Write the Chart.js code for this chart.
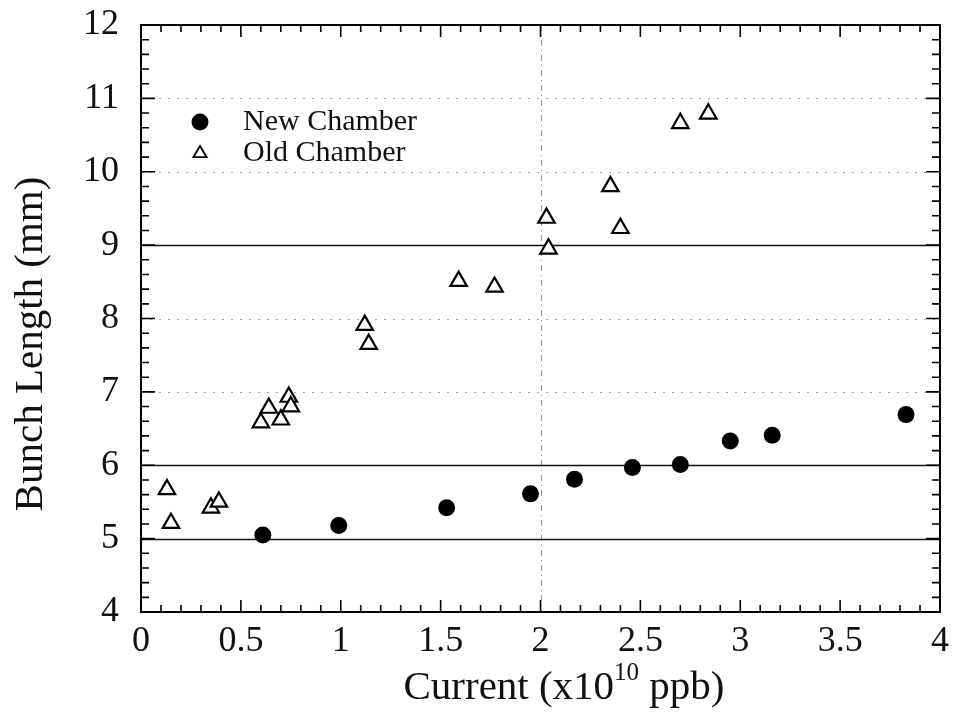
<!DOCTYPE html>
<html>
<head>
<meta charset="utf-8">
<script src="https://cdn.jsdelivr.net/npm/chart.js@4.4.1/dist/chart.umd.min.js"></script>
<style>
  html, body { margin: 0; padding: 0; background: #fff; }
  #wrap { width: 956px; height: 717px; }
</style>
</head>
<body>
<div id="wrap"><canvas id="c" width="956" height="717"></canvas></div>
<script>
// Bunch length vs. bunch current, new and old vacuum chamber
const newCurrent = [0.61, 0.99, 1.53, 1.95, 2.17, 2.46, 2.70, 2.95, 3.16, 3.83];
const newLength  = [5.05, 5.18, 5.42, 5.61, 5.81, 5.97, 6.01, 6.33, 6.41, 6.69];

const oldCurrent = [0.13, 0.15, 0.35, 0.39, 0.60, 0.64, 0.70, 0.74, 0.75, 1.12, 1.14, 1.59, 1.77, 2.03, 2.04, 2.35, 2.40, 2.70, 2.84];
const oldLength  = [5.67, 5.21, 5.42, 5.50, 6.58, 6.78, 6.62, 6.93, 6.80, 7.91, 7.65, 8.51, 8.43, 9.37, 8.95, 9.80, 9.23, 10.66, 10.79];

const xTicks = [0, 0.5, 1, 1.5, 2, 2.5, 3, 3.5, 4];
const yTicks = [4, 5, 6, 7, 8, 9, 10, 11, 12];
const seriesNames = ['New Chamber', 'Old Chamber'];
const yTitle = 'Bunch Length (mm)';

const solidGridY = [5, 6, 9];
const dottedGridY = [7, 8, 10, 11];
const dashedGridX = [2];

const SERIF = '"Liberation Serif", "Times New Roman", serif';

const toPoints = (xs, ys) => xs.map((x, i) => ({ x, y: ys[i] }));

// Grid lines, inward tick marks, closed frame, legend and axis titles
const decor = {
  id: 'decor',
  beforeDatasetsDraw(chart) {
    const { ctx, chartArea: a, scales: { x, y } } = chart;
    ctx.save();
    ctx.strokeStyle = '#111';
    ctx.lineWidth = 1.6;
    solidGridY.forEach(v => {
      const py = Math.round(y.getPixelForValue(v)) + 0.5;
      ctx.beginPath(); ctx.moveTo(a.left, py); ctx.lineTo(a.right, py); ctx.stroke();
    });
    ctx.strokeStyle = 'rgba(0,0,0,0.35)';
    ctx.lineWidth = 1;
    ctx.setLineDash([2, 7]);
    dottedGridY.forEach(v => {
      const py = Math.round(y.getPixelForValue(v)) + 0.5;
      ctx.beginPath(); ctx.moveTo(a.left, py); ctx.lineTo(a.right, py); ctx.stroke();
    });
    ctx.setLineDash([6, 4, 1, 4]);
    ctx.strokeStyle = 'rgba(0,0,0,0.4)';
    dashedGridX.forEach(v => {
      const px = Math.round(x.getPixelForValue(v)) + 0.5;
      ctx.beginPath(); ctx.moveTo(px, a.top); ctx.lineTo(px, a.bottom); ctx.stroke();
    });
    ctx.restore();
  },
  afterDraw(chart) {
    const { ctx, chartArea: a, scales: { x, y } } = chart;
    ctx.save();
    ctx.strokeStyle = '#000';
    ctx.lineWidth = 2;
    ctx.strokeRect(a.left, a.top, a.right - a.left, a.bottom - a.top);

    ctx.lineWidth = 1.6;
    // x ticks every 0.1, major every 0.5
    for (let i = 0; i <= 40; i++) {
      const px = x.getPixelForValue(i / 10);
      const len = (i % 5 === 0) ? 12 : 7;
      ctx.beginPath();
      ctx.moveTo(px, a.bottom); ctx.lineTo(px, a.bottom - len);
      ctx.moveTo(px, a.top); ctx.lineTo(px, a.top + len);
      ctx.stroke();
    }
    // y ticks every 0.2, major every 1
    for (let i = 0; i <= 40; i++) {
      const py = y.getPixelForValue(4 + i / 5);
      const len = (i % 5 === 0) ? 14 : 8;
      ctx.beginPath();
      ctx.moveTo(a.left, py); ctx.lineTo(a.left + len, py);
      ctx.moveTo(a.right, py); ctx.lineTo(a.right - len, py);
      ctx.stroke();
    }

    // legend
    const ds = chart.data.datasets;
    const lx = 200, ly = [122, 153];
    ds.forEach((d, i) => {
      ctx.beginPath();
      if (d.pointStyle === 'circle') {
        ctx.fillStyle = d.backgroundColor;
        ctx.arc(lx, ly[i], 8.5, 0, Math.PI * 2);
        ctx.fill();
      } else {
        const r = 7;
        ctx.fillStyle = '#fff';
        ctx.strokeStyle = '#000';
        ctx.lineWidth = 1.8;
        ctx.moveTo(lx, ly[i] - r);
        ctx.lineTo(lx + r * 0.95, ly[i] + r * 0.6);
        ctx.lineTo(lx - r * 0.95, ly[i] + r * 0.6);
        ctx.closePath();
        ctx.fill(); ctx.stroke();
      }
      ctx.fillStyle = '#111';
      ctx.font = '30px ' + SERIF;
      ctx.textAlign = 'left';
      ctx.textBaseline = 'middle';
      ctx.fillText(d.label, 243, ly[i]);
    });

    // y-axis title
    ctx.fillStyle = '#111';
    ctx.font = '41px ' + SERIF;
    ctx.textAlign = 'center';
    ctx.textBaseline = 'middle';
    ctx.save();
    ctx.translate(31, 344);
    ctx.rotate(-Math.PI / 2);
    ctx.fillText(yTitle, 0, 0);
    ctx.restore();

    // x-axis title with superscript exponent
    ctx.textBaseline = 'alphabetic';
    ctx.textAlign = 'left';
    const big = '41px ' + SERIF, small = '25px ' + SERIF;
    const p1 = 'Current (x10', p2 = '10', p3 = ' ppb)';
    ctx.font = big; const w1 = ctx.measureText(p1).width, w3 = ctx.measureText(p3).width;
    ctx.font = small; const w2 = ctx.measureText(p2).width;
    let tx = 564 - (w1 + w2 + w3) / 2;
    const base = 699;
    ctx.font = big; ctx.fillText(p1, tx, base); tx += w1;
    ctx.font = small; ctx.fillText(p2, tx, base - 19); tx += w2;
    ctx.font = big; ctx.fillText(p3, tx, base);
    ctx.restore();
  }
};

new Chart(document.getElementById('c'), {
  type: 'scatter',
  data: {
    datasets: [
      {
        label: seriesNames[0],
        data: toPoints(newCurrent, newLength),
        pointStyle: 'circle',
        pointRadius: 8.5,
        backgroundColor: '#000',
        borderColor: '#000',
        borderWidth: 0
      },
      {
        label: seriesNames[1],
        data: toPoints(oldCurrent, oldLength),
        pointStyle: 'triangle',
        pointRadius: 9.5,
        backgroundColor: '#fff',
        borderColor: '#000',
        borderWidth: 2.2
      }
    ]
  },
  options: {
    responsive: false,
    animation: false,
    layout: { padding: { top: 25, right: 16, left: 0, bottom: 0 } },
    plugins: { legend: { display: false }, tooltip: { enabled: false } },
    scales: {
      x: {
        type: 'linear',
        min: 0, max: 4,
        afterBuildTicks: s => { s.ticks = xTicks.map(v => ({ value: v })); },
        afterFit: s => { s.height = 105; s.paddingLeft = 0; s.paddingRight = 0; },
        grid: { display: false, drawTicks: false },
        border: { display: false },
        ticks: {
          color: '#111',
          padding: 8,
          font: { family: SERIF, size: 36 },
          callback: v => String(v)
        }
      },
      y: {
        type: 'linear',
        min: 4, max: 12,
        afterBuildTicks: s => { s.ticks = yTicks.map(v => ({ value: v })); },
        afterFit: s => { s.width = 141; s.paddingTop = 0; s.paddingBottom = 0; },
        grid: { display: false, drawTicks: false },
        border: { display: false },
        title: { display: false },
        ticks: {
          color: '#111',
          padding: 22,
          font: { family: SERIF, size: 36 },
          callback: v => String(v)
        }
      }
    }
  },
  plugins: [decor]
});
</script>
</body>
</html>
